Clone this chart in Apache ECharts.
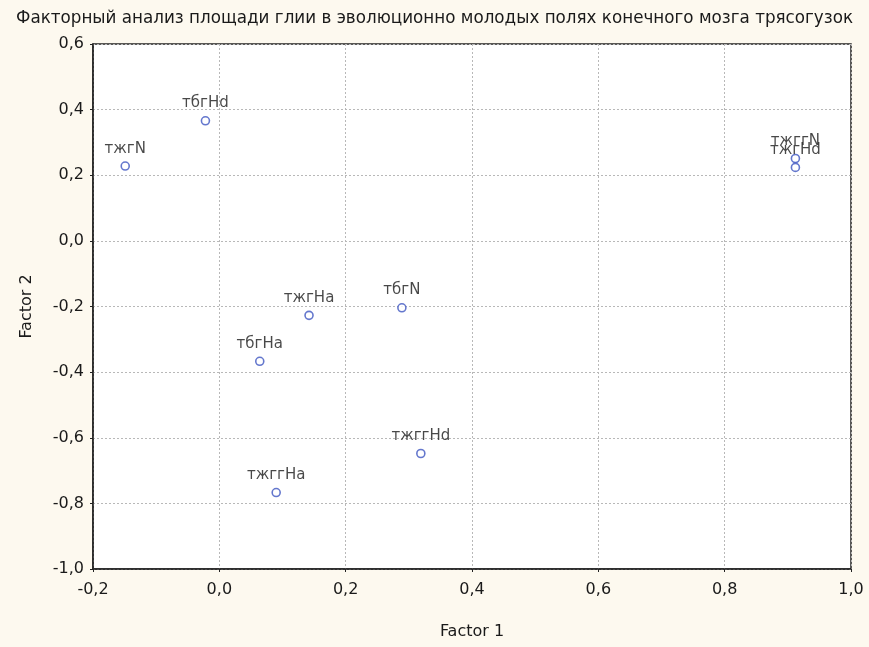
<!DOCTYPE html>
<html>
<head>
<meta charset="utf-8">
<script src="https://cdn.jsdelivr.net/npm/echarts@6/dist/echarts.min.js"></script>
<style>
html,body{margin:0;padding:0;background:#fdf9ef;}
#chart{width:869px;height:647px;}
</style>
</head>
<body>
<div id="chart"></div>
<script>
const titleText = 'Факторный анализ площади глии в эволюционно молодых полях конечного мозга трясогузок';
const pointNames = ['тжгN', 'тбгHd', 'тжггN', 'тжгHd', 'тжгHa', 'тбгN', 'тбгHa', 'тжггHd', 'тжггHa'];
const factor1 = [-0.149, -0.022, 0.912, 0.912, 0.142, 0.289, 0.064, 0.319, 0.090];
const factor2 = [0.228, 0.366, 0.251, 0.224, -0.227, -0.204, -0.367, -0.648, -0.767];
const xTicks = { min: -0.2, max: 1.0, interval: 0.2 };
const yTicks = { min: -1.0, max: 0.6, interval: 0.2 };

const fmt = v => v.toFixed(1).replace('.', ',');
const data = pointNames.map((n, i) => ({ name: n, value: [factor1[i], factor2[i]] }));
const font = 'DejaVu Sans';

// fit title to the reference width
const ctx = document.createElement('canvas').getContext('2d');
ctx.font = '16px "DejaVu Sans"';
let titleSize = 16 * 838 / ctx.measureText(titleText).width;
titleSize = Math.max(12, Math.min(18, titleSize));

const chart = echarts.init(document.getElementById('chart'));
chart.setOption({
  backgroundColor: '#fdf9ef',
  animation: false,
  title: {
    text: titleText,
    left: 'center',
    top: 5,
    textStyle: { fontFamily: font, fontSize: titleSize, fontWeight: 'normal', color: '#1a1a1a' }
  },
  grid: { left: 93, right: 18, top: 44, bottom: 78, show: true, backgroundColor: '#ffffff', borderColor: '#222', borderWidth: 1.5 },
  xAxis: {
    type: 'value', min: xTicks.min, max: xTicks.max, interval: xTicks.interval,
    name: 'Factor 1', nameLocation: 'middle', nameGap: 55,
    nameTextStyle: { fontFamily: font, fontSize: 16, color: '#1a1a1a' },
    axisLine: { show: true, onZero: false, lineStyle: { color: '#222', width: 1.5 } },
    axisTick: { show: true, inside: false, length: 3, lineStyle: { color: '#222' } },
    axisLabel: { formatter: fmt, fontFamily: font, fontSize: 16, color: '#1a1a1a', margin: 13 },
    splitLine: { show: true, lineStyle: { color: '#b8b8b8', type: [2, 2], width: 1 } }
  },
  yAxis: {
    type: 'value', min: yTicks.min, max: yTicks.max, interval: yTicks.interval,
    name: 'Factor 2', nameLocation: 'middle', nameGap: 58,
    nameTextStyle: { fontFamily: font, fontSize: 16, color: '#1a1a1a' },
    axisLine: { show: true, onZero: false, lineStyle: { color: '#222', width: 1.5 } },
    axisTick: { show: true, inside: false, length: 3, lineStyle: { color: '#222' } },
    axisLabel: { formatter: fmt, fontFamily: font, fontSize: 16, color: '#1a1a1a', margin: 9 },
    splitLine: { show: true, lineStyle: { color: '#b8b8b8', type: [2, 2], width: 1 } }
  },
  series: [{
    type: 'scatter',
    data: data,
    symbol: 'circle',
    symbolSize: 8,
    itemStyle: { color: '#ffffff', borderColor: '#3d55c0', borderWidth: 1.6 },
    label: {
      show: true, position: 'top', distance: 5,
      formatter: p => p.name,
      fontFamily: font, fontSize: 15, color: '#1a1a1a'
    }
  }]
});
</script>
</body>
</html>
